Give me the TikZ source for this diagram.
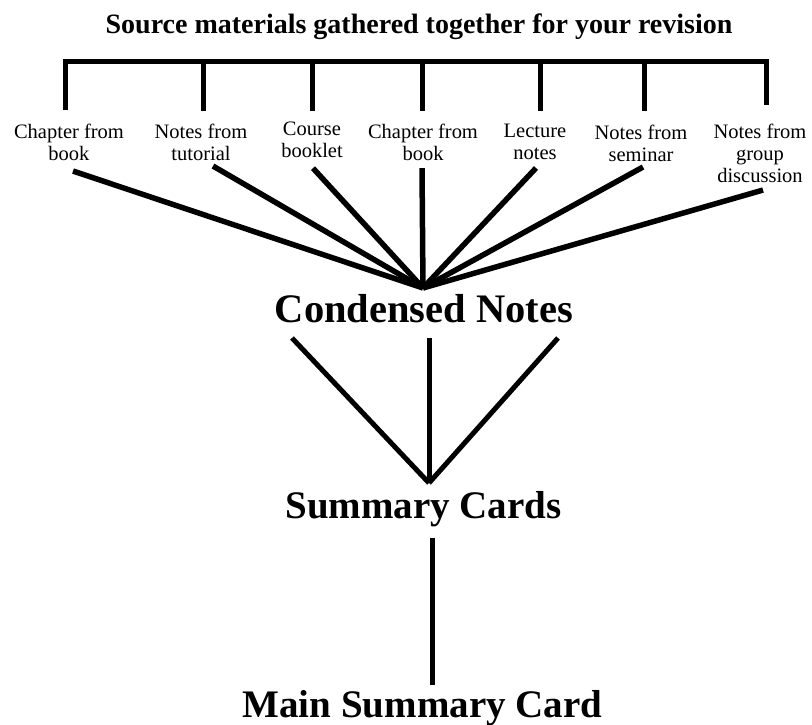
\documentclass[tikz,border=0pt]{standalone}
\usepackage{fontspec}
\setmainfont{Liberation Serif}
\begin{document}
\begin{tikzpicture}[x=1pt,y=-1pt,
		lbl/.style={align=center,inner sep=0pt,anchor=north,font=\fontsize{20.5}{22}\selectfont},
		big/.style={inner sep=0pt,anchor=base,font=\fontsize{39}{47}\selectfont\bfseries},
		bar/.style={line width=5pt},
		fan/.style={line width=5.5pt}]
	\useasboundingbox (0,0) rectangle (812,725);
	\node[inner sep=0pt,anchor=base,font=\fontsize{28}{34}\selectfont\bfseries] (title) at (419,34) {Source materials gathered together for your revision};
	% bracket over the sources
	\draw[bar] (65,110)--(65,62)--(766,62)--(766,105);
	\foreach \tx in {203,312,422,540,644} \draw[bar] (\tx,62)--(\tx,111);
	\node[lbl] (src1) at (69,124) {Chapter from\\book};
	\node[lbl] (src2) at (201,124) {Notes from\\tutorial};
	\node[lbl] (src3) at (312,122) {Course\\booklet};
	\node[lbl] (src4) at (423,124) {Chapter from\\book};
	\node[lbl] (src5) at (535,124) {Lecture\\notes};
	\node[lbl] (src6) at (641,125) {Notes from\\seminar};
	\node[lbl] (src7) at (760,124) {Notes from\\group\\discussion};
	\coordinate (hub) at (423,288);
	\foreach \i/\dx/\dy in {1/4/10,2/12/5,3/1/10,4/-1/7,5/1/8,6/2/5,7/3/7}
		\draw[fan] ([xshift=\dx pt,yshift=-\dy pt]src\i.south) -- (hub);
	\node[big,font=\fontsize{40.5}{48}\selectfont\bfseries] (cond) at (424,322) {Condensed Notes};
	\coordinate (c1) at (292,338); \coordinate (c2) at (429,338); \coordinate (c3) at (558,338);
	\coordinate (sumtop) at (429,483);
	\foreach \c in {c1,c2,c3} \draw[bar] (\c) -- (sumtop);
	\node[big] (sum) at (423.5,518) {Summary Cards};
	\coordinate (s1) at (432,538); \coordinate (m1) at (432,685);
	\draw[bar] (s1) -- (m1);
	\node[big] (main) at (422.5,717) {Main Summary Card};
\end{tikzpicture}
\end{document}
